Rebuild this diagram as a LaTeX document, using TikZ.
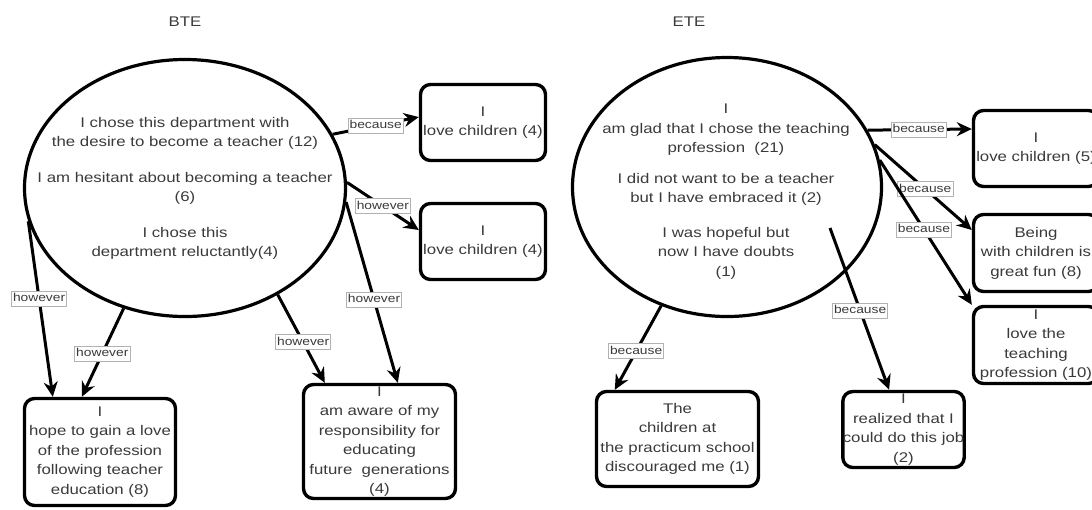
\documentclass[tikz,border=0pt]{standalone}
\usepackage{fontspec}
\setmainfont{Liberation Sans}[FakeStretch=1.2]
\usetikzlibrary{arrows.meta,shapes.geometric}
\definecolor{txt}{HTML}{3A3A3A}
\tikzset{
 ell/.style={ellipse, draw=black, line width=3.2pt, inner sep=0pt},
 etext/.style={align=center, text=txt, font=\fontsize{14}{19.5}\selectfont},
 box/.style={rectangle, rounded corners=10pt, draw=black, line width=3.4pt, fill=white, align=center, text=txt, font=\fontsize{14}{19.5}\selectfont, inner sep=0pt},
 conn/.style={line width=3pt, -{Stealth[length=15pt,width=14pt,inset=5pt]}},
 lab/.style={fill=white, draw=gray!60, line width=0.6pt, inner sep=1.5pt, text height=9pt, text depth=3pt, text=txt, font=\fontsize{11.5}{13}\selectfont},
 ttl/.style={text=txt, font=\fontsize{14}{16}\selectfont}
}
\begin{document}
\begin{tikzpicture}[x=1pt,y=-1pt]
\useasboundingbox (0,0) rectangle (1092,509);
% titles
\node[ttl] (t1) at (185,22) {BTE};
\node[ttl] (t2) at (689,22) {ETE};
% ellipses
\node[ell, minimum width=321pt, minimum height=257pt] (E1) at (185,188) {};
\node[etext] (E1t) at (185,188.5) {I chose this department with\\the desire to become a teacher (12)\\[16pt]I am hesitant about becoming a teacher\\(6)\\[16pt]I chose this\\department reluctantly(4)};
\node[ell, minimum width=309pt, minimum height=259pt] (E2) at (727,187) {};
\node[etext] (E2t) at (726,191.5) {I\\am glad that I chose the teaching\\profession~~(21)\\[11pt]I did not want to be a teacher\\but I have embraced it (2)\\[15pt]I was hopeful but\\now I have doubts\\(1)};
% boxes left
\node[box, minimum width=125pt, minimum height=76pt] (L1) at (483,122.5) {I\\love children (4)};
\node[box, minimum width=125pt, minimum height=76pt] (L2) at (483,241.5) {I\\love children (4)};
\node[box, minimum width=151pt, minimum height=107pt] (LB1) at (100,452) {I\\hope to gain a love\\of the profession\\following teacher\\education (8)};
\node[box, minimum width=152pt, minimum height=114pt] (LB2) at (379.5,441.5) {I\\am aware of my\\responsibility for\\educating\\future~~generations\\(4)};
% boxes right
\node[box, minimum width=125pt, minimum height=76pt] (R1) at (1036,148.5) {I\\love children (5)};
\node[box, minimum width=125pt, minimum height=77pt] (R2) at (1036,253) {Being\\with children is\\great fun (8)};
\node[box, minimum width=125pt, minimum height=77pt] (R3) at (1036,345) {I\\love the\\teaching\\profession (10)};
\node[box, minimum width=162pt, minimum height=95pt] (RB1) at (677.5,439) {The\\children at\\the practicum school\\discouraged me (1)};
\node[box, minimum width=120pt, minimum height=76pt] (RB2) at (903.5,429.5) {I\\realized that I\\could do this job\\(2)};
\coordinate (h2) at (830,228);
% connectors left
\draw[conn] (E1.20) -- ([yshift=5.5pt]L1.west) node[lab, pos=0.5] {because};
\draw[conn] (E1.2) -- ([yshift=11.5pt]L2.west) node[lab, pos=0.5] {however};
\draw[conn] (E1.192.7) -- ([xshift=30pt]LB1.north west) node[lab, pos=0.44] {however};
\draw[conn] (E1.243.4) -- ([xshift=59pt]LB1.north west) node[lab, pos=0.51] {however};
\draw[conn] (E1.-49) -- ([xshift=23pt]LB2.north west) node[lab, pos=0.54] {however};
\draw[conn] (E1.-5.3) -- ([xshift=96pt]LB2.north west) node[lab, pos=0.54] {however};
% connectors right
\draw[conn] (E2.22.5) -- ([yshift=19.5pt]R1.west) node[lab, pos=0.49] {because};
\draw[conn] (E2.16.9) -- ([yshift=23pt]R2.west) node[lab, pos=0.52] {because};
\draw[conn] (E2.10.9) -- (R3.north west) node[lab, pos=0.48] {because};
\draw[conn] (E2.241) -- ([xshift=20pt]RB1.north west) node[lab, pos=0.54] {because};
\draw[conn] (h2) -- ([xshift=48pt]RB2.north west) node[lab, pos=0.51] {because};
\end{tikzpicture}
\end{document}
